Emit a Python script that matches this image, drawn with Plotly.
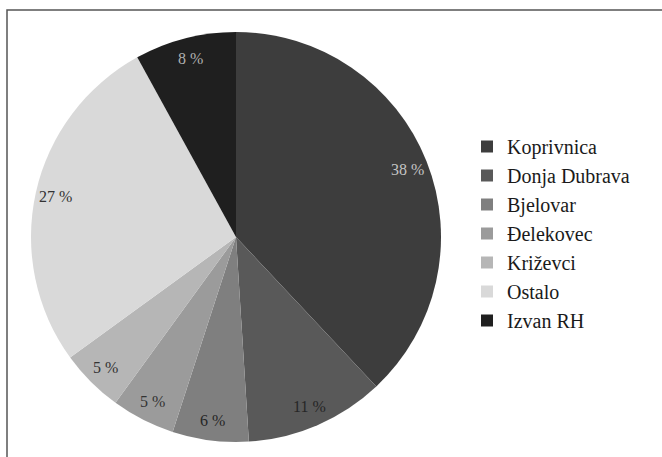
import numpy as np
import plotly.graph_objects as go

labels = ["Koprivnica", "Donja Dubrava", "Bjelovar", "Đelekovec", "Križevci", "Ostalo", "Izvan RH"]
values = [38, 11, 6, 5, 5, 27, 8]
colors = ["#3d3d3d", "#595959", "#7f7f7f", "#9b9b9b", "#b6b6b6", "#d9d9d9", "#1f1f1f"]
text_colors = ["#c4c4c4", "#262626", "#262626", "#333333", "#333333", "#333333", "#b0b0b0"]

W, H = 662, 457
cx, cy, r = 236, 237, 205  # pixel centre / radius of the pie (from top-left)
label_r = 0.9              # labels sit at 90 % of the radius

dom_x = [(cx - r) / W, (cx + r) / W]
dom_y = [(H - cy - r) / H, (H - cy + r) / H]

fig = go.Figure(go.Pie(
    labels=labels,
    values=values,
    sort=False,
    direction="clockwise",
    rotation=0,
    marker=dict(colors=colors, line=dict(width=0)),
    textinfo="none",
    domain=dict(x=dom_x, y=dom_y),
    hoverinfo="label+percent",
))

# percentage labels placed at each slice's mid-angle (clockwise from 12 o'clock)
vals = np.array(values, dtype=float)
cum = np.cumsum(vals) - vals / 2
ang = 2 * np.pi * cum / vals.sum()
annotations = []
for v, a, c in zip(values, ang, text_colors):
    px = cx + label_r * r * np.sin(a)
    py = cy - label_r * r * np.cos(a)
    annotations.append(dict(
        x=px / W, y=1 - py / H, xref="paper", yref="paper",
        text=f"{v} %", showarrow=False, xanchor="center", yanchor="middle",
        font=dict(family="Liberation Serif", size=16, color=c),
    ))

fig.update_layout(
    width=W, height=H,
    margin=dict(l=0, r=0, t=0, b=0),
    paper_bgcolor="white",
    plot_bgcolor="white",
    showlegend=True,
    legend=dict(
        x=467 / W, y=1 - 127 / H, xanchor="left", yanchor="top",
        font=dict(family="Liberation Serif", size=20, color="#1a1a1a"),
        itemwidth=30, tracegroupgap=0,
        bgcolor="rgba(0,0,0,0)",
    ),
    annotations=annotations,
    shapes=[dict(type="rect", xref="paper", yref="paper",
                 x0=7 / W, x1=1.05, y0=-0.05, y1=1 - 10 / H,
                 line=dict(color="#555555", width=1.5))],
)

fig.write_html("out.html",
               config={"displayModeBar": False},
               post_script="document.body.style.margin='0';document.body.style.overflow='hidden';")
